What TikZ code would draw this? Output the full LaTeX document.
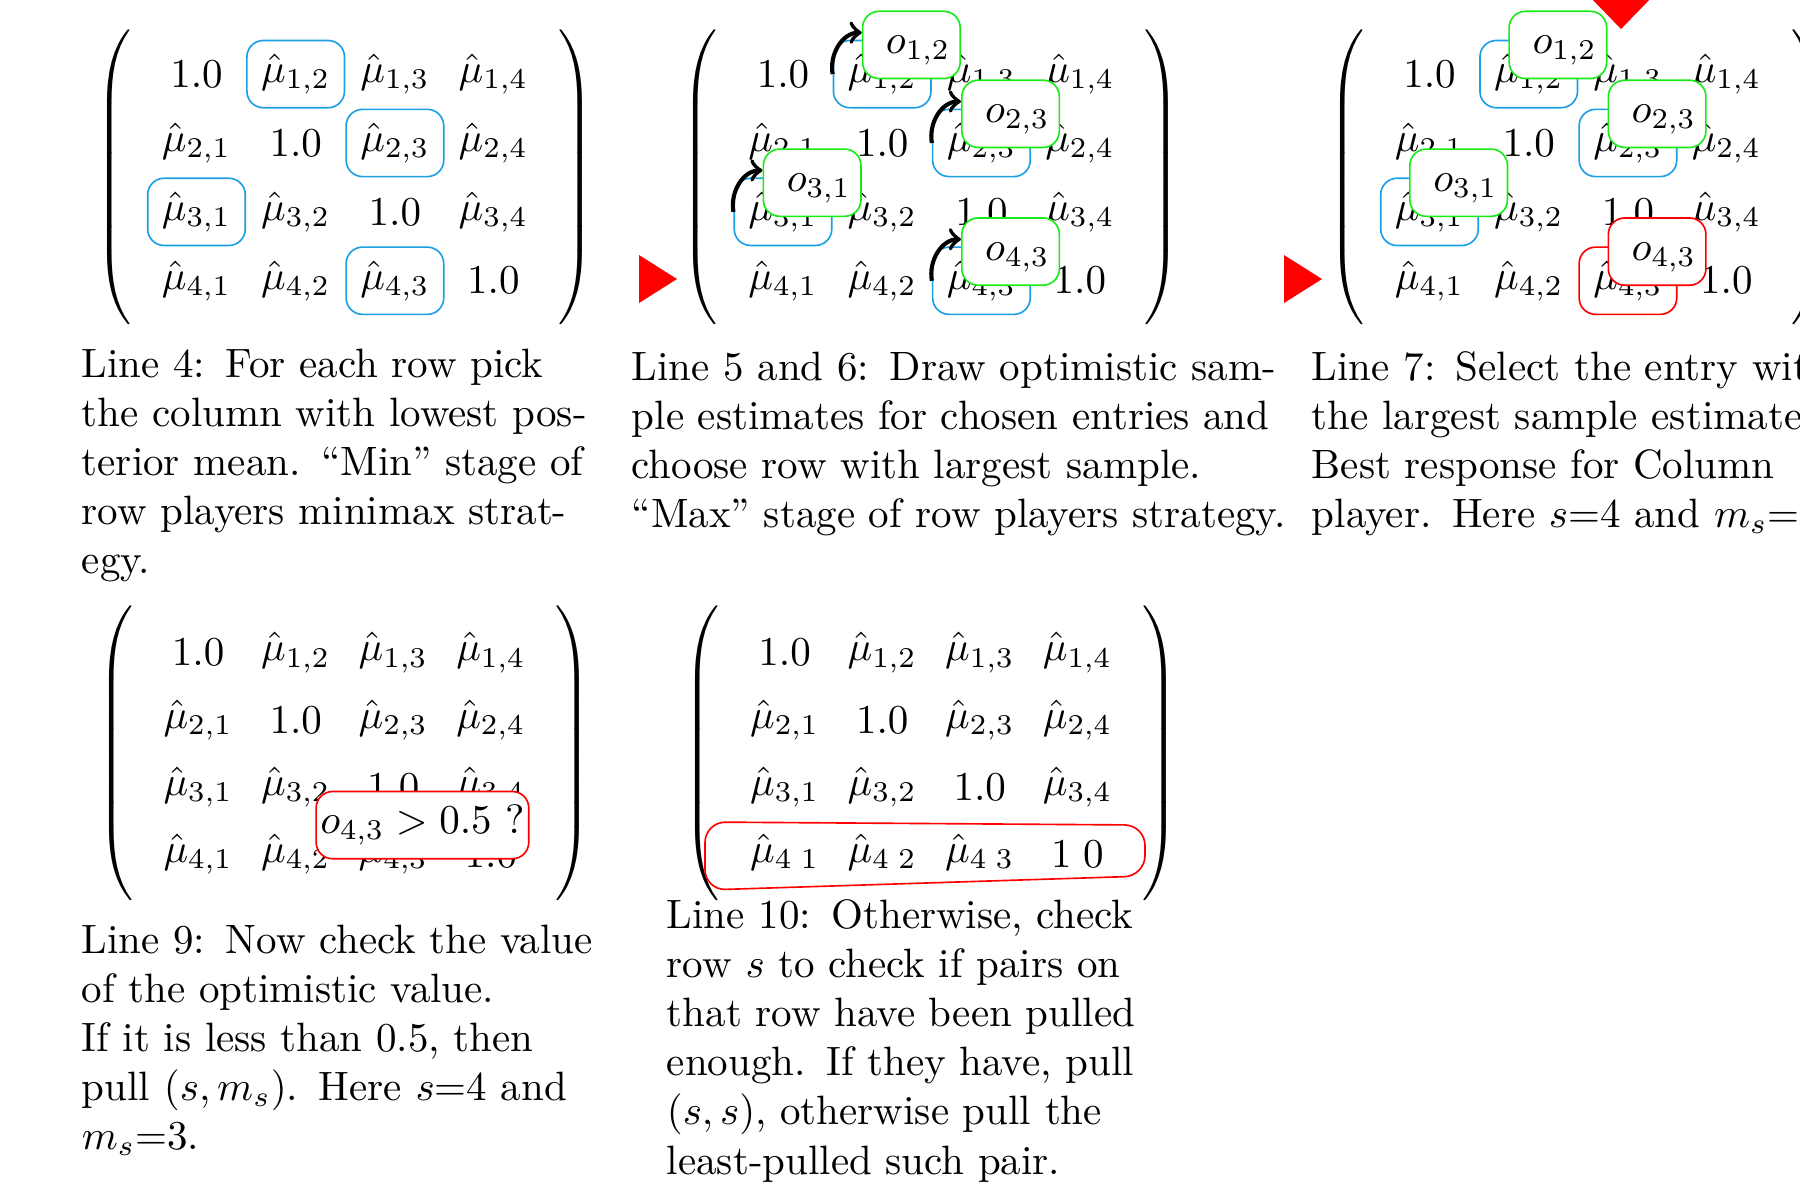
\documentclass[tikz,border=0pt]{standalone}
\usetikzlibrary{matrix}

\definecolor{pickblue}{RGB}{28,160,228}
\definecolor{drawgreen}{RGB}{25,235,25}

\tikzset{
  est/.style={matrix of math nodes, left delimiter=(, right delimiter=),
    column sep=0pt, row sep=0pt, inner xsep=2.5pt,
    nodes={anchor=center, inner sep=0pt, minimum width=23.8pt, minimum height=16.4pt}},
  pick/.style={draw=pickblue, rounded corners=4pt},
  best/.style={draw=red, rounded corners=4pt},
  opt/.style={draw=drawgreen, fill=white, rounded corners=4pt, inner sep=0pt,
    minimum width=23.8pt, minimum height=16.4pt, text width=19pt, text height=7pt, align=right},
  check/.style={draw=red, fill=white, rounded corners=4pt, inner sep=1pt, minimum height=16.4pt},
  lift/.style={->, line width=1pt},
  note/.style={anchor=base west, inner sep=0pt, text width=160pt, align=left},
}

\begin{document}
\begin{tikzpicture}[x=0.2439pt, y=-0.2439pt]
\useasboundingbox (0,0) rectangle (1800,1191);
\clip (0,0) rectangle (1800,1191);

% Line 4: min stage
\matrix (mA) [est] at (344.5,177.4) {
  1.0 & |[pick]| \hat\mu_{1,2} & \hat\mu_{1,3} & \hat\mu_{1,4} \\
  \hat\mu_{2,1} & 1.0 & |[pick]| \hat\mu_{2,3} & \hat\mu_{2,4} \\
  |[pick]| \hat\mu_{3,1} & \hat\mu_{3,2} & 1.0 & \hat\mu_{3,4} \\
  \hat\mu_{4,1} & \hat\mu_{4,2} & |[pick]| \hat\mu_{4,3} & 1.0 \\
};
\node[note] (nA) at (81,377) {Line 4: For each row pick\\the column with lowest pos-\\terior mean. ``Min'' stage of\\row players minimax strat-\\egy.};

% Line 5 and 6: optimistic samples
\matrix (mB) [est] at (931,177.4) {
  1.0 & |[pick]| \hat\mu_{1,2} & \hat\mu_{1,3} & \hat\mu_{1,4} \\
  \hat\mu_{2,1} & 1.0 & |[pick]| \hat\mu_{2,3} & \hat\mu_{2,4} \\
  |[pick]| \hat\mu_{3,1} & \hat\mu_{3,2} & 1.0 & \hat\mu_{3,4} \\
  \hat\mu_{4,1} & \hat\mu_{4,2} & |[pick]| \hat\mu_{4,3} & 1.0 \\
};
\node[opt] (oB12) at ([shift={(0.25cm,0.25cm)}]mB-1-2) {$o_{1,2}$};
\node[opt] (oB23) at ([shift={(0.25cm,0.25cm)}]mB-2-3) {$o_{2,3}$};
\node[opt] (oB31) at ([shift={(0.25cm,0.25cm)}]mB-3-1) {$o_{3,1}$};
\node[opt] (oB43) at ([shift={(0.25cm,0.25cm)}]mB-4-3) {$o_{4,3}$};
\draw[lift] (mB-1-2.west) to[out=100,in=180] ([yshift=3pt]oB12.west);
\draw[lift] (mB-2-3.west) to[out=100,in=180] ([yshift=3pt]oB23.west);
\draw[lift] (mB-3-1.west) to[out=100,in=180] ([yshift=3pt]oB31.west);
\draw[lift] (mB-4-3.west) to[out=100,in=180] ([yshift=3pt]oB43.west);
\fill[red] (677,279) -- (639,255) -- (639,303) -- cycle;
\node[note] (nB) at (631,380) {Line 5 and 6: Draw optimistic sam-\\ple estimates for chosen entries and\\choose row with largest sample.\\``Max'' stage of row players strategy.};

% Line 7: best response
\matrix (mC) [est] at (1577.5,177.4) {
  1.0 & |[pick]| \hat\mu_{1,2} & \hat\mu_{1,3} & \hat\mu_{1,4} \\
  \hat\mu_{2,1} & 1.0 & |[pick]| \hat\mu_{2,3} & \hat\mu_{2,4} \\
  |[pick]| \hat\mu_{3,1} & \hat\mu_{3,2} & 1.0 & \hat\mu_{3,4} \\
  \hat\mu_{4,1} & \hat\mu_{4,2} & |[best]| \hat\mu_{4,3} & 1.0 \\
};
\node[opt] (oC12) at ([shift={(0.25cm,0.25cm)}]mC-1-2) {$o_{1,2}$};
\node[opt] (oC23) at ([shift={(0.25cm,0.25cm)}]mC-2-3) {$o_{2,3}$};
\node[opt] (oC31) at ([shift={(0.25cm,0.25cm)}]mC-3-1) {$o_{3,1}$};
\node[opt, draw=red] (oC43) at ([shift={(0.25cm,0.25cm)}]mC-4-3) {$o_{4,3}$};
\fill[red] (1322,279) -- (1284,255) -- (1284,303) -- cycle;
\fill[red] (1621,29) -- (1589,-4) -- (1653,-4) -- cycle;
\node[note] (nC) at (1311,380) {Line 7: Select the entry with\\the largest sample estimate.\\Best response for Column\\player. Here $s$=4 and $m_s$=3.};

% Line 9: check the optimistic value
\matrix (mD) [est] at (344.5,753.4) {
  1.0 & \hat\mu_{1,2} & \hat\mu_{1,3} & \hat\mu_{1,4} \\
  \hat\mu_{2,1} & 1.0 & \hat\mu_{2,3} & \hat\mu_{2,4} \\
  \hat\mu_{3,1} & \hat\mu_{3,2} & 1.0 & \hat\mu_{3,4} \\
  \hat\mu_{4,1} & \hat\mu_{4,2} & \hat\mu_{4,3} & 1.0 \\
};
\node[check] (oD43) at ([shift={(0.25cm,0.25cm)}]mD-4-3) {$o_{4,3} > 0.5$ ?};
\node[note] (nD) at (81,953) {Line 9: Now check the value\\of the optimistic value.\\If it is less than 0.5, then\\pull $(s,m_s)$. Here $s$=4 and\\$m_s$=3.};

% Line 10: otherwise check row s
\matrix (mE) [est] at (931,753.4) {
  1.0 & \hat\mu_{1,2} & \hat\mu_{1,3} & \hat\mu_{1,4} \\
  \hat\mu_{2,1} & 1.0 & \hat\mu_{2,3} & \hat\mu_{2,4} \\
  \hat\mu_{3,1} & \hat\mu_{3,2} & 1.0 & \hat\mu_{3,4} \\
  \hat\mu_{4\phantom{,}1} & \hat\mu_{4\phantom{,}2} & \hat\mu_{4\phantom{,}3} & 1\phantom{.}0 \\
};
\draw[red, rounded corners=5pt] (705,822) -- (1145,825) -- (1145,876) -- (705,890) -- cycle;
\node[note] (nE) at (666,928) {Line 10: Otherwise, check\\row $s$ to check if pairs on\\that row have been pulled\\enough. If they have, pull\\$(s,s)$, otherwise pull the\\least-pulled such pair.};
\end{tikzpicture}
\end{document}
